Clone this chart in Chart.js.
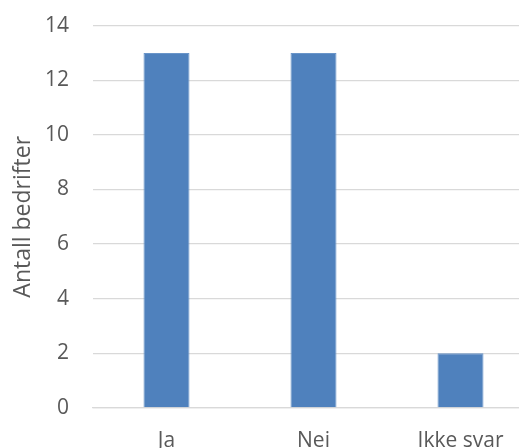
<!DOCTYPE html>
<html>
<head>
<meta charset="utf-8">
<script src="https://cdn.jsdelivr.net/npm/chart.js@4"></script>
<style>
  html, body { margin: 0; padding: 0; background: #fff; overflow: hidden; }
  #wrap { width: 545px; height: 473px; margin-top: -11px; position: relative; }
</style>
</head>
<body>
<div id="wrap"><canvas id="barChart"></canvas></div>
<script>
const kategorier = ['Ja', 'Nei', 'Ikke svar'];
const antall = [13, 13, 2];
const yTicks = [0, 2, 4, 6, 8, 10, 12, 14];

const fontFamily = '"Open Sans", "Noto Sans", sans-serif';
const tekstFarge = '#595959';
const gridFarge = '#d9d9d9';

const ctx = document.getElementById('barChart').getContext('2d');
const chartBar = new Chart(ctx, {
  type: 'bar',
  data: {
    labels: kategorier,
    datasets: [{
      label: 'Antall bedrifter',
      data: antall,
      backgroundColor: '#4f81bd',
      borderColor: '#6a95c9',
      borderWidth: 1,
      categoryPercentage: 1,
      barPercentage: 0.313
    }]
  },
  options: {
    responsive: true,
    maintainAspectRatio: false,
    animation: false,
    layout: { padding: { top: 0, right: 11, left: 0, bottom: 0 } },
    plugins: {
      legend: { display: false },
      tooltip: { enabled: false }
    },
    scales: {
      x: {
        grid: { display: false, drawTicks: false },
        border: { display: true, color: gridFarge, width: 1.3 },
        ticks: {
          color: tekstFarge,
          font: { family: fontFamily, size: 21 },
          padding: 20
        },
        afterFit: (scale) => { scale.height = 54; }
      },
      y: {
        min: 0,
        max: 14,
        afterBuildTicks: (scale) => { scale.ticks = yTicks.map(v => ({ value: v })); },
        grid: { color: gridFarge, lineWidth: 1.3, drawTicks: false },
        border: { display: false },
        ticks: {
          color: tekstFarge,
          font: { family: fontFamily, size: 21 },
          padding: 24
        },
        title: {
          display: true,
          text: 'Antall bedrifter',
          color: tekstFarge,
          font: { family: fontFamily, size: 23 },
          padding: { top: 10, bottom: 0 }
        },
        afterFit: (scale) => { scale.width = 93; }
      }
    }
  }
});
</script>
</body>
</html>
